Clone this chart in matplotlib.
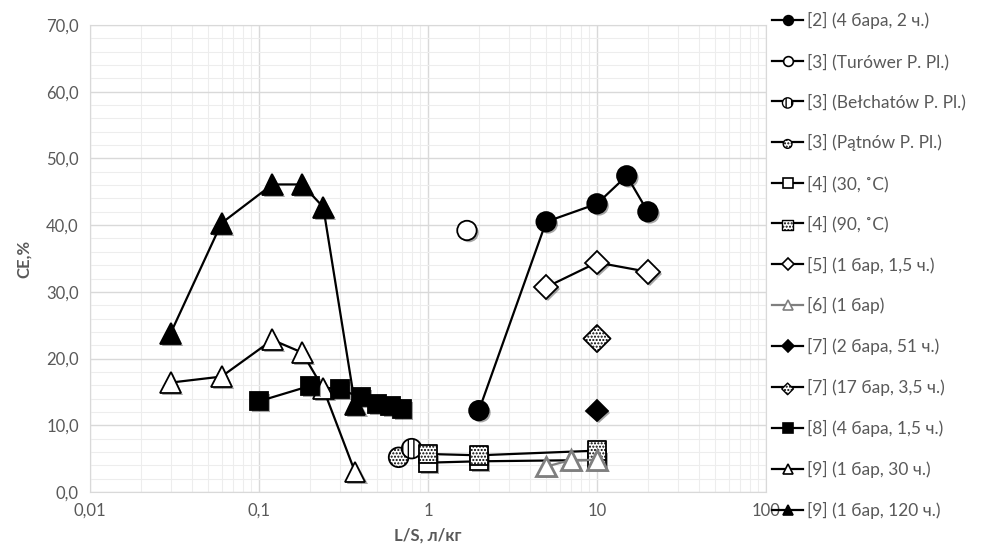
import numpy as np
import matplotlib
matplotlib.use("Agg")
import matplotlib.pyplot as plt
import matplotlib.patheffects as pe
from matplotlib.lines import Line2D
from matplotlib.legend_handler import HandlerTuple
from matplotlib.ticker import FixedLocator, FuncFormatter, NullFormatter, MultipleLocator

plt.rcParams['font.family'] = ['Lato', 'DejaVu Sans']
plt.rcParams['hatch.color'] = 'black'
plt.rcParams['hatch.linewidth'] = 1.0

# ---- data ----
s2_x = [2, 5, 10, 15, 20]
s2_y = [12.2, 40.5, 43.2, 47.4, 42.0]
s3t_x = [1.7]
s3t_y = [39.2]
s3b_x = [0.8]
s3b_y = [6.5]
s3p_x = [0.67]
s3p_y = [5.2]
s4a_x = [1, 2, 10]
s4a_y = [4.4, 4.6, 4.8]
s4b_x = [1, 2, 10]
s4b_y = [5.7, 5.5, 6.2]
s5_x = [5, 10, 20]
s5_y = [30.7, 34.4, 33.0]
s6_x = [5, 7, 10]
s6_y = [3.8, 4.8, 4.8]
s7a_x = [10]
s7a_y = [12.2]
s7b_x = [10]
s7b_y = [23.0]
s8_x = [0.1, 0.2, 0.3, 0.4, 0.5, 0.6, 0.7]
s8_y = [13.6, 15.9, 15.4, 14.2, 13.2, 12.9, 12.5]
s9a_x = [0.03, 0.06, 0.12, 0.18, 0.24, 0.37]
s9a_y = [16.4, 17.3, 22.8, 20.9, 15.5, 3.0]
s9b_x = [0.03, 0.06, 0.12, 0.18, 0.24, 0.37]
s9b_y = [23.8, 40.3, 46.1, 46.1, 42.7, 13.1]

labels = ["[2] (4 бара, 2 ч.)", "[3] (Turówer P. Pl.)", "[3] (Bełchatów P. Pl.)",
          "[3] (Pątnów P. Pl.)", "[4] (30, ˚C)", "[4] (90, ˚C)", "[5] (1 бар, 1,5 ч.)",
          "[6] (1 бар)", "[7] (2 бара, 51 ч.)", "[7] (17 бар, 3,5 ч.)",
          "[8] (4 бара, 1,5 ч.)", "[9] (1 бар, 30 ч.)", "[9] (1 бар, 120 ч.)"]

x_ticks = [0.01, 0.1, 1, 10, 100]
x_ticklabels = ["0,01", "0,1", "1", "10", "100"]
y_ticks = [0, 10, 20, 30, 40, 50, 60, 70]

fig = plt.figure(figsize=(9.83, 5.55), dpi=100)
ax = fig.add_axes([90/983, 1-492/555, (766-90)/983, (492-25)/555])

shadow = [pe.SimplePatchShadow(offset=(1.5, -1.5), shadow_rgbFace='k', alpha=0.35), pe.Normal()]
LW = 1.6

def line(x, y, color='black', z=3):
    ax.plot(x, y, '-', color=color, lw=LW, zorder=z)

def marks(x, y, marker, fc, ec='black', ms=13, z=4, mew=1.3):
    ax.plot(x, y, linestyle='none', marker=marker, mfc=fc, mec=ec, ms=ms, mew=mew,
            zorder=z, path_effects=shadow)

def hatched(x, y, marker, hatch, s, z=5):
    ax.scatter(x, y, marker=marker, s=s, facecolor='white', edgecolor='black',
               hatch=hatch, linewidths=1.3, zorder=z)

# [9] 120h
line(s9b_x, s9b_y)
marks(s9b_x, s9b_y, '^', 'black', ms=15)
# [9] 30h
line(s9a_x, s9a_y)
marks(s9a_x, s9a_y, '^', 'white', ms=15)
# [8]
line(s8_x, s8_y)
marks(s8_x, s8_y, 's', 'black', ms=13)
# [2]
line(s2_x, s2_y)
marks(s2_x, s2_y, 'o', 'black', ms=14)
# [3] Turówer
marks(s3t_x, s3t_y, 'o', 'white', ms=14)
# [5]
line(s5_x, s5_y)
marks(s5_x, s5_y, 'D', 'white', ms=12)
# [7] 2 bar
marks(s7a_x, s7a_y, 'D', 'black', ms=11)
# [7] 17 bar
hatched(s7b_x, s7b_y, 'D', '.....', 190)
# [4] 30C
line(s4a_x, s4a_y, z=3)
marks(s4a_x, s4a_y, 's', 'white', ms=13, z=4)
# [4] 90C
line(s4b_x, s4b_y, z=5)
hatched(s4b_x, s4b_y, 's', '.....', 180, z=6)
# [6]
line(s6_x, s6_y, color='#7f7f7f', z=6)
marks(s6_x, s6_y, '^', 'white', ec='#7f7f7f', ms=14, z=7, mew=2)
# [3] Pątnów, Bełchatów
hatched(s3p_x, s3p_y, 'o', '.....', 200, z=5)
hatched(s3b_x, s3b_y, 'o', '|||', 200, z=5)

# axes
ax.set_xscale('log')
ax.set_xlim(0.01, 100)
ax.set_ylim(0, 70)
ax.xaxis.set_major_locator(FixedLocator(x_ticks))
ax.xaxis.set_major_formatter(FuncFormatter(lambda v, p: x_ticklabels[x_ticks.index(v)] if v in x_ticks else ""))
ax.xaxis.set_minor_formatter(NullFormatter())
ax.yaxis.set_major_locator(FixedLocator(y_ticks))
ax.yaxis.set_major_formatter(FuncFormatter(lambda v, p: f"{v:.1f}".replace('.', ',')))
ax.yaxis.set_minor_locator(MultipleLocator(2))
ax.grid(True, which='major', color='#d9d9d9', lw=1.0, zorder=0)
ax.grid(True, which='minor', color='#ededed', lw=0.8, zorder=0)
ax.set_axisbelow(True)
for s in ax.spines.values():
    s.set_color('#d9d9d9')
ax.tick_params(which='both', length=0, labelsize=12, labelcolor='#595959', pad=8)
ax.set_xlabel("L/S, л/кг", fontsize=12, fontweight='bold', color='#595959', labelpad=6)
ax.set_ylabel("CE,%", fontsize=12, fontweight='bold', color='#595959', labelpad=10)

# legend handles
def lh(marker, fc, ec='black', color='black', ms=7):
    return Line2D([], [], color=color, lw=LW, marker=marker, mfc=fc, mec=ec, ms=ms, mew=1.2)

def hh(marker, hatch, s):
    ln = Line2D([], [], color='black', lw=LW)
    sc = ax.scatter([np.nan], [np.nan], marker=marker, s=s, facecolor='white',
                    edgecolor='black', hatch=hatch, linewidths=1.0)
    return (ln, sc)

handles = [lh('o', 'black'), lh('o', 'white'), hh('o', '|||', 55), hh('o', '.....', 40),
           lh('s', 'white'), hh('s', '.....', 55), lh('D', 'white', ms=6),
           lh('^', 'white', ec='#7f7f7f', color='#7f7f7f'), lh('D', 'black', ms=6),
           hh('D', '.....', 35), lh('s', 'black'), lh('^', 'white'), lh('^', 'black')]

leg = fig.legend(handles, labels, loc='upper left', bbox_to_anchor=(762/983, 1.0 - 2/555),
                 frameon=False, fontsize=12.5, labelspacing=1.38, handlelength=1.75,
                 handletextpad=0.25, borderaxespad=0.2,
                 handler_map={tuple: HandlerTuple(ndivide=1, pad=0)})
for t in leg.get_texts():
    t.set_color('#595959')

fig.savefig("out.png", dpi=100)
